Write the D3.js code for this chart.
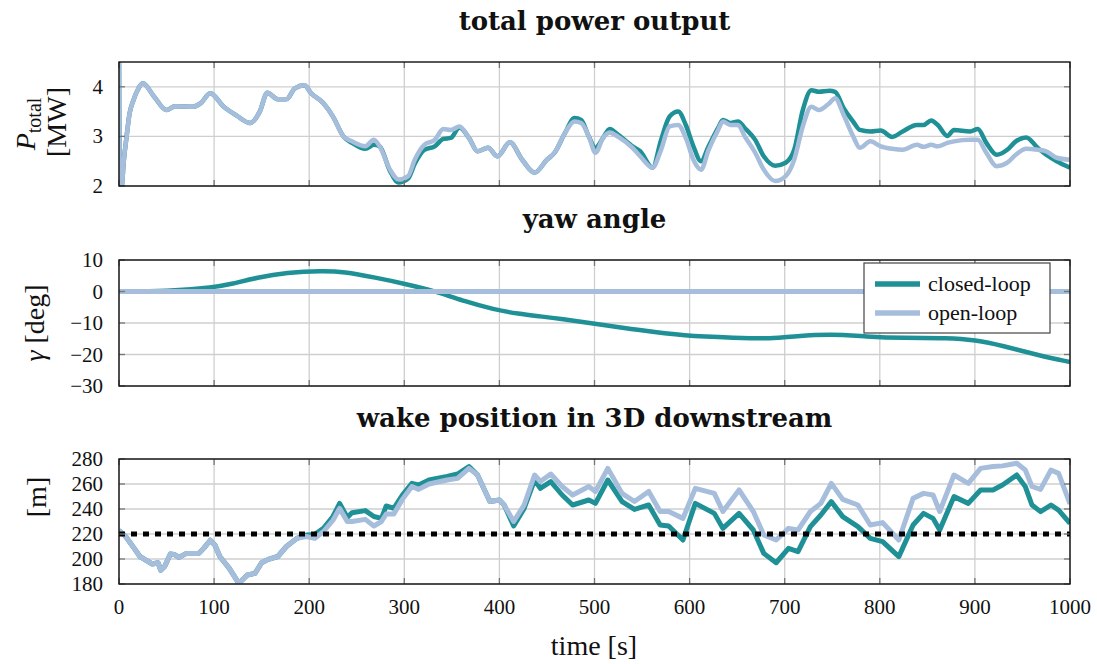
<!DOCTYPE html>
<html lang="en">
<head>
<meta charset="UTF-8">
<title>wind farm yaw control</title>
<script src="https://d3js.org/d3.v7.min.js"></script>
<style>
  body { margin: 0; background: #fff; }
  text { font-family: "Liberation Serif", serif; fill: #111; }
  .title { font-family: "DejaVu Serif", serif; font-weight: bold; font-size: 26px; }
  .tick { font-size: 21px; }
  .alabel { font-size: 28px; }
</style>
</head>
<body>
<svg width="1097" height="664"></svg>
<script>
// time axis ticks
var xTicks = [0, 100, 200, 300, 400, 500, 600, 700, 800, 900, 1000];

// total power output [MW], [time, value]
var powerClosed = [[0,4.7],[1,1.9],[3,2.0],[5,2.5],[8,3.0],[11,3.45],[15,3.72],[20,3.95],[25,4.07],[37,3.8],[50,3.53],[59,3.61],[78,3.6],[86,3.67],[96,3.87],[110,3.6],[123,3.43],[138,3.27],[148,3.5],[156,3.88],[167,3.75],[176,3.75],[185,3.97],[195,4.03],[202,3.87],[215,3.67],[225,3.4],[236,3.0],[245,2.87],[259,2.75],[268,2.83],[274,2.8],[285,2.3],[294,2.07],[304,2.15],[311,2.45],[321,2.73],[332,2.8],[341,2.95],[349,2.97],[358,3.18],[368,2.97],[377,2.7],[388,2.77],[398,2.6],[411,2.88],[424,2.53],[437,2.27],[450,2.53],[458,2.67],[469,3.07],[479,3.37],[486,3.33],[494,3.0],[501,2.77],[509,2.97],[516,3.15],[525,3.03],[540,2.8],[548,2.7],[561,2.37],[570,2.93],[579,3.4],[588,3.5],[596,3.23],[604,2.8],[612,2.5],[620,2.8],[630,3.17],[635,3.33],[643,3.27],[651,3.3],[658,3.17],[669,2.93],[678,2.6],[690,2.41],[701,2.47],[710,2.73],[719,3.53],[728,3.93],[736,3.9],[747,3.92],[753,3.9],[762,3.57],[772,3.3],[779,3.13],[790,3.1],[801,3.12],[813,2.99],[824,3.1],[839,3.23],[846,3.23],[854,3.32],[861,3.23],[871,3.01],[878,3.13],[895,3.1],[903,3.15],[912,2.87],[923,2.63],[934,2.73],[943,2.9],[954,2.98],[966,2.77],[975,2.63],[986,2.5],[1000,2.37]];
var powerOpen = [[0,4.7],[1,1.9],[3,2.0],[5,2.5],[8,3.0],[11,3.45],[15,3.72],[20,3.95],[25,4.07],[37,3.8],[50,3.53],[59,3.61],[78,3.6],[86,3.67],[96,3.87],[110,3.6],[123,3.43],[138,3.27],[148,3.5],[156,3.88],[167,3.75],[176,3.75],[185,3.97],[195,4.03],[202,3.87],[215,3.67],[225,3.4],[236,3.0],[245,2.9],[259,2.8],[268,2.93],[274,2.8],[285,2.33],[294,2.13],[304,2.2],[311,2.53],[321,2.83],[332,2.93],[341,3.15],[349,3.13],[358,3.2],[368,2.97],[377,2.7],[388,2.77],[398,2.6],[411,2.88],[424,2.53],[437,2.27],[450,2.53],[458,2.67],[469,3.07],[479,3.3],[486,3.27],[494,3.0],[501,2.67],[509,2.97],[516,3.08],[525,2.99],[540,2.77],[548,2.6],[561,2.37],[570,2.73],[579,3.2],[588,3.23],[596,2.97],[604,2.53],[612,2.33],[620,2.73],[630,3.13],[635,3.3],[643,3.23],[651,3.23],[658,3.0],[669,2.67],[678,2.33],[690,2.1],[701,2.2],[710,2.53],[719,3.2],[728,3.6],[736,3.53],[747,3.67],[753,3.77],[762,3.43],[772,3.0],[779,2.77],[790,2.9],[801,2.8],[813,2.75],[824,2.73],[839,2.83],[846,2.79],[854,2.83],[861,2.8],[871,2.87],[878,2.9],[895,2.93],[903,2.93],[912,2.67],[923,2.4],[934,2.47],[943,2.63],[954,2.75],[966,2.73],[975,2.7],[986,2.57],[1000,2.53]];
var powerTicks = [2, 3, 4];

// yaw angle [deg]
var yawClosed = [[0,0],[50,0],[101,1.4],[116,2.2],[146,4.5],[176,6.0],[214,6.6],[236,6.3],[270,4.4],[300,2.5],[334,0],[364,-3.2],[394,-5.7],[420,-7.1],[443,-7.9],[465,-8.7],[500,-10.2],[548,-12.3],[593,-14.1],[649,-14.7],[686,-15],[711,-14.2],[749,-13.5],[786,-14.3],[824,-14.8],[872,-14.7],[900,-15.4],[929,-17.2],[966,-20.2],[1000,-22.4]];
var yawOpen = [[0,0],[1000,0]];
var yawTicks = [-30, -20, -10, 0, 10];

// wake position 3D downstream [m]
var wakeClosed = [[0,223],[7,218],[16,208.5],[22,202],[29,198.7],[35,196],[41,197],[44,191],[48,194],[54,204],[58,203.7],[63,201.3],[71,204.5],[84,204.5],[89,208.5],[96,215],[101,211],[106,202],[116,192.5],[126,180.5],[135,187.2],[143,188.5],[150,197],[157,199.7],[167,202],[176,210],[187,216.5],[197,219.2],[206,219.7],[215,224.5],[225,234],[232,244.5],[240,233.3],[245,237],[259,238.7],[268,234],[276,232.5],[281,242.4],[289,240.5],[298,251.2],[308,260.5],[315,259.2],[326,263.2],[345,266],[356,268],[368,274],[377,267.2],[390,246],[400,247.2],[405,243.2],[415,226.4],[426,240.5],[437,263.2],[443,256.5],[454,261.9],[466,251.2],[477,243.2],[494,247.2],[501,244.5],[514,263.2],[529,245.9],[542,239.7],[557,243.2],[569,227.2],[578,226.4],[593,215.2],[606,244.5],[626,236.5],[635,224.5],[652,236.5],[667,223.2],[678,204.5],[691,197],[704,208.5],[714,205.9],[727,225.9],[738,235.2],[749,245.9],[761,233.9],[777,225.9],[790,216.5],[803,213.9],[820,201.9],[835,227.2],[846,236.5],[856,232.5],[863,223.2],[878,249.9],[893,244.5],[906,255.2],[919,255.2],[929,259.2],[944,267.2],[953,257.9],[960,243.2],[969,237.9],[980,243.2],[988,239.1],[1000,228.5]];
var wakeOpen = [[0,223],[7,218],[16,208.5],[22,202],[29,198.7],[35,196],[41,197],[44,191],[48,194],[54,204],[58,203.7],[63,201.3],[71,204.5],[84,204.5],[89,208.5],[96,215],[101,211],[106,202],[116,192.5],[126,180.5],[135,187.2],[143,188.5],[150,197],[157,199.7],[167,202],[176,210],[187,216.5],[197,218],[206,216.5],[215,222],[225,231],[232,240.5],[240,230],[245,230],[259,231.7],[268,226.4],[276,230],[281,236],[289,236],[298,247.7],[308,258],[315,255.7],[326,260],[345,263.2],[356,264.5],[368,272.5],[377,267.2],[390,246],[400,247.2],[405,243.2],[415,230],[426,243.2],[437,267.2],[443,262],[454,268],[466,258],[477,251.2],[494,258],[501,254],[514,272.5],[529,252.5],[542,246],[557,254],[569,238],[578,238],[593,232.5],[606,256.5],[626,252.5],[635,238],[652,255.2],[667,238],[678,219.2],[691,215.2],[704,224.5],[714,223.2],[727,238],[738,244.5],[749,260.5],[761,247.7],[777,243.2],[790,227.2],[803,229.1],[820,215.2],[835,248.5],[846,252.5],[856,251.2],[863,238],[878,267.2],[893,260.5],[906,272.5],[919,274],[929,274.5],[944,276.6],[953,271.2],[960,258],[969,255.7],[980,271.2],[988,268.5],[1000,244]];
var wakeRef = [[0,220],[1000,220]];
var wakeTicks = [180, 200, 220, 240, 260, 280];

var seriesNames = ["closed-loop", "open-loop"];
var colClosed = "#1f9196", colOpen = "#a6bddb";

var svg = d3.select("svg");
var x = d3.scaleLinear().domain([0, 1000]).range([119, 1070]);

function panel(id, top, bottom, domain, ticks, title, curve) {
  var y = d3.scaleLinear().domain(domain).range([bottom, top]);
  var g = svg.append("g");
  g.append("clipPath").attr("id", "clip" + id).append("rect")
    .attr("x", x.range()[0]).attr("y", top)
    .attr("width", x.range()[1] - x.range()[0]).attr("height", bottom - top);

  // grid
  g.selectAll(".vg").data(xTicks).enter().append("line")
    .attr("x1", d => x(d)).attr("x2", d => x(d)).attr("y1", top).attr("y2", bottom)
    .attr("stroke", "#cfcfcf").attr("stroke-width", 1.3);
  g.selectAll(".hg").data(ticks).enter().append("line")
    .attr("x1", x.range()[0]).attr("x2", x.range()[1]).attr("y1", d => y(d)).attr("y2", d => y(d))
    .attr("stroke", "#cfcfcf").attr("stroke-width", 1.3);

  g.append("text").attr("class", "title")
    .attr("x", (x.range()[0] + x.range()[1]) / 2).attr("y", top - 32)
    .attr("text-anchor", "middle").text(title);

  g.selectAll(".yt").data(ticks).enter().append("text").attr("class", "tick")
    .attr("x", 103).attr("y", d => y(d) + 7).attr("text-anchor", "end")
    .text(d => d3.format("")(d));

  var line = d3.line().x(d => x(d[0])).y(d => y(d[1])).curve(curve);
  var plot = g.append("g").attr("clip-path", "url(#clip" + id + ")");
  return {g: g, y: y, line: line, plot: plot, top: top, bottom: bottom, ticks: ticks};
}

function frame(p) {
  var g = p.g;
  // inner tick marks
  xTicks.forEach(function(t) {
    g.append("line").attr("x1", x(t)).attr("x2", x(t)).attr("y1", p.bottom).attr("y2", p.bottom - 6)
      .attr("stroke", "#777").attr("stroke-width", 1.3);
    g.append("line").attr("x1", x(t)).attr("x2", x(t)).attr("y1", p.top).attr("y2", p.top + 6)
      .attr("stroke", "#777").attr("stroke-width", 1.3);
  });
  p.ticks.forEach(function(v) {
    g.append("line").attr("x1", x.range()[0]).attr("x2", x.range()[0] + 6).attr("y1", p.y(v)).attr("y2", p.y(v))
      .attr("stroke", "#777").attr("stroke-width", 1.3);
    g.append("line").attr("x1", x.range()[1]).attr("x2", x.range()[1] - 6).attr("y1", p.y(v)).attr("y2", p.y(v))
      .attr("stroke", "#777").attr("stroke-width", 1.3);
  });
  g.append("rect").attr("x", x.range()[0]).attr("y", p.top)
    .attr("width", x.range()[1] - x.range()[0]).attr("height", p.bottom - p.top)
    .attr("fill", "none").attr("stroke", "#111").attr("stroke-width", 1.4);
}

function draw(p, data, color, w) {
  p.plot.append("path").datum(data).attr("d", p.line)
    .attr("fill", "none").attr("stroke", color).attr("stroke-width", w)
    .attr("stroke-linejoin", "round").attr("stroke-linecap", "butt");
}

// top panel
var p1 = panel(1, 62, 186, [2, 4.5], powerTicks, "total power output", d3.curveMonotoneX);
draw(p1, powerClosed, colClosed, 4.5);
draw(p1, powerOpen, colOpen, 4.5);
frame(p1);
var yl1 = p1.g.append("text").attr("class", "alabel")
  .attr("transform", "translate(35,124) rotate(-90)").attr("text-anchor", "middle");
yl1.append("tspan").attr("font-style", "italic").text("P");
yl1.append("tspan").attr("font-size", "20px").attr("dy", 6).text("total");
p1.g.append("text").attr("class", "alabel")
  .attr("transform", "translate(66,122) rotate(-90)").attr("text-anchor", "middle").text("[MW]");

// yaw panel
var p2 = panel(2, 260, 386, [-30, 10], yawTicks, "yaw angle", d3.curveBasis);
draw(p2, yawClosed, colClosed, 4.5);
draw(p2, yawOpen, colOpen, 5);
frame(p2);
var yl2 = p2.g.append("text").attr("class", "alabel")
  .attr("transform", "translate(44,323) rotate(-90)").attr("text-anchor", "middle");
yl2.append("tspan").attr("font-style", "italic").text("γ");
yl2.append("tspan").text(" [deg]");

// legend
var lg = p2.g.append("g").attr("transform", "translate(864,263)");
lg.append("rect").attr("width", 186).attr("height", 70)
  .attr("fill", "#fff").attr("stroke", "#444").attr("stroke-width", 1.2);
seriesNames.forEach(function(n, i) {
  var yy = 21 + i * 29;
  lg.append("line").attr("x1", 11).attr("x2", 56).attr("y1", yy).attr("y2", yy)
    .attr("stroke", i === 0 ? colClosed : colOpen).attr("stroke-width", 5.5);
  lg.append("text").attr("x", 64).attr("y", yy + 7).attr("font-size", "22px").text(n);
});

// wake panel
var p3 = panel(3, 459, 584, [180, 280], wakeTicks, "wake position in 3D downstream", d3.curveLinear);
draw(p3, wakeClosed, colClosed, 5);
draw(p3, wakeOpen, colOpen, 5);
p3.plot.append("path").datum(wakeRef).attr("d", p3.line)
  .attr("fill", "none").attr("stroke", "#000").attr("stroke-width", 5)
  .attr("stroke-dasharray", "6,6");
frame(p3);
p3.g.append("text").attr("class", "alabel")
  .attr("transform", "translate(46,497) rotate(-90)").attr("text-anchor", "middle").text("[m]");

// x tick labels and label
svg.selectAll(".xt").data(xTicks).enter().append("text").attr("class", "tick")
  .attr("x", d => x(d)).attr("y", 614).attr("text-anchor", "middle").text(d => d);
svg.append("text").attr("class", "alabel").attr("x", 594).attr("y", 655)
  .attr("text-anchor", "middle").text("time [s]");
</script>
</body>
</html>
